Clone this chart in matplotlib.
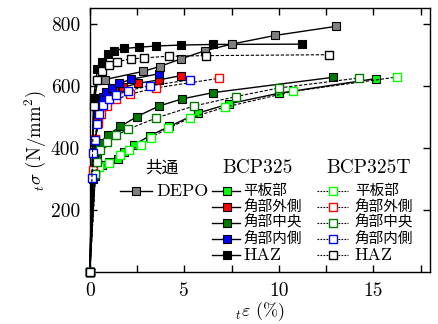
import matplotlib
matplotlib.use("Agg")
import matplotlib.pyplot as plt

plt.rcParams['font.family'] = 'serif'
plt.rcParams['font.serif'] = ['cmr10', 'DejaVu Serif']
plt.rcParams['mathtext.fontset'] = 'cm'
plt.rcParams['axes.unicode_minus'] = False

# --- data: strain (%) and true stress (N/mm2) ---
depo_x = [0, 0.21, 0.4, 0.8, 2.8, 3.7, 4.8, 6.1, 7.5, 9.8, 13.0]
depo_y = [0, 535, 617, 620, 646, 662, 686, 713, 734, 762, 791]

# BCP325 (filled, solid)
flat_x = [0, 0.3, 0.65, 1.0, 1.5, 1.8, 2.35, 3.17, 4.2, 5.73, 7.37, 10.0, 15.13]
flat_y = [0, 330, 345, 355, 365, 387, 410, 439, 469, 512, 542, 576, 623]
outer_x = [0, 0.17, 0.3, 0.45, 0.6, 0.9, 1.3, 1.76, 2.56, 3.67, 4.85]
outer_y = [0, 320, 430, 490, 540, 570, 585, 595, 608, 619, 633]
center_x = [0, 0.25, 0.4, 0.6, 0.97, 1.62, 2.5, 3.67, 4.9, 6.53, 12.84]
center_y = [0, 310, 370, 415, 442, 469, 501, 535, 558, 578, 627]
inner_x = [0, 0.17, 0.3, 0.44, 0.53, 0.71, 0.88, 1.15, 1.55, 2.2, 3.67]
inner_y = [0, 300, 420, 506, 539, 565, 581, 594, 608, 621, 639]
haz_x = [0, 0.2, 0.4, 0.65, 0.95, 1.3, 1.8, 2.6, 3.5, 4.8, 6.5, 11.25]
haz_y = [0, 560, 654, 676, 702, 713, 720, 724, 728, 731, 733, 734]

# BCP325T (open, dashed)
flat_t_x = [0, 0.3, 0.5, 1.0, 1.6, 2.1, 2.7, 3.23, 4.14, 5.29, 7.14, 10.76, 16.23]
flat_t_y = [0, 320, 338, 350, 378, 393, 409, 433, 463, 496, 531, 582, 628]
outer_t_x = [0, 0.17, 0.3, 0.45, 0.6, 0.9, 1.4, 2.12, 3.49, 6.84]
outer_t_y = [0, 329, 430, 480, 510, 535, 556, 573, 593, 624]
center_t_x = [0, 0.3, 0.4, 0.56, 0.9, 1.4, 2.03, 3.49, 5.52, 7.72, 10.0, 14.25]
center_t_y = [0, 315, 355, 394, 418, 440, 460, 496, 535, 565, 593, 625]
inner_t_x = [0, 0.14, 0.19, 0.26, 0.39, 0.48, 0.71, 1.02, 1.41, 2.03, 3.17, 5.29]
inner_t_y = [0, 302, 383, 426, 477, 510, 539, 557, 571, 584, 600, 619]
haz_t_x = [0, 0.2, 0.39, 0.62, 1.0, 1.46, 2.17, 2.87, 4.18, 6.17, 12.67]
haz_t_y = [0, 535, 619, 648, 668, 678, 686, 690, 695, 697, 700]

labels_jp = ['平板部', '角部外側', '角部中央', '角部内側', 'HAZ']
colors = ['#00ff00', '#ff0000', '#007a00', '#0000ff', '#000000']

series_325 = [(flat_x, flat_y), (outer_x, outer_y), (center_x, center_y),
              (inner_x, inner_y), (haz_x, haz_y)]
series_325t = [(flat_t_x, flat_t_y), (outer_t_x, outer_t_y),
               (center_t_x, center_t_y), (inner_t_x, inner_t_y),
               (haz_t_x, haz_t_y)]

DASH = (0, (3, 1.5))
MS = 6.3

fig = plt.figure(figsize=(4.38, 3.24), dpi=100)
ax = fig.add_axes([0.205, 0.160, 0.777, 0.815])

for (x, y), c in zip(series_325, colors):
    ax.plot(x, y, ls='-', color='k', lw=1.0, marker='s', ms=MS,
            mfc=c, mec='k', mew=0.8, clip_on=False, zorder=3)
ax.plot(depo_x, depo_y, ls='-', color='k', lw=1.0, marker='s', ms=MS,
        mfc='#808080', mec='k', mew=0.8, clip_on=False, zorder=3)
for (x, y), c in zip(series_325t, colors):
    ax.plot(x, y, ls=DASH, color='k', lw=0.8, marker='s', ms=MS,
            mfc='white', mec=c, mew=1.0, clip_on=False, zorder=3)

ax.set_xlim(0, 18)
ax.set_ylim(0, 850)
xt = [0, 2.5, 5, 7.5, 10, 12.5, 15, 17.5]
ax.set_xticks(xt)
ax.set_xticklabels(['0', '', '5', '', '10', '', '15', ''])
ax.set_yticks([200, 400, 600, 800])
ax.tick_params(direction='in', top=True, right=True, length=5, width=1,
               labelsize=14, pad=7)
for s in ax.spines.values():
    s.set_linewidth(1.0)

ax.set_xlabel(r'${}_t\varepsilon\ (\%)$', fontsize=13, labelpad=0)
ax.set_ylabel(r'${}_t\sigma\ (\mathrm{N/mm^2})$', fontsize=13.5, labelpad=2)

# --- hand-built legend ---
tr = ax.transAxes
jp = 'Noto Sans CJK JP'
rows = [0.307, 0.246, 0.188, 0.127, 0.064]
ty = 0.394
ax.text(0.212, ty, '共通', family=jp, fontsize=12, ha='center', va='center',
        transform=tr)
ax.text(0.494, ty, 'BCP325', fontsize=14, ha='center', va='center',
        transform=tr)
ax.text(0.818, ty, 'BCP325T', fontsize=14, ha='center', va='center',
        transform=tr)

ax.plot([0.088, 0.182], [rows[0]] * 2, '-', color='k', lw=1.0, transform=tr)
ax.plot([0.135], [rows[0]], 's', ms=5.5, mfc='#808080', mec='k', mew=0.8,
        transform=tr)
ax.text(0.197, rows[0], 'DEPO', fontsize=13, va='center', transform=tr)

for r, c, lab in zip(rows, colors, labels_jp):
    fam = jp if lab != 'HAZ' else 'serif'
    fs = 10.5 if lab != 'HAZ' else 13
    ax.plot([0.359, 0.441], [r, r], '-', color='k', lw=1.0, transform=tr)
    ax.plot([0.403], [r], 's', ms=5.5, mfc=c, mec='k', mew=0.8, transform=tr)
    ax.text(0.452, r, lab, family=fam, fontsize=fs, va='center', transform=tr)
    ax.plot([0.668, 0.759], [r, r], ls=(0, (1.5, 1.2)), color='k', lw=0.8,
            transform=tr)
    ax.plot([0.715], [r], 's', ms=5.5, mfc='white', mec=c, mew=1.0,
            transform=tr)
    ax.text(0.779, r, lab, family=fam, fontsize=fs, va='center', transform=tr)

fig.savefig('out.png', dpi=100)
